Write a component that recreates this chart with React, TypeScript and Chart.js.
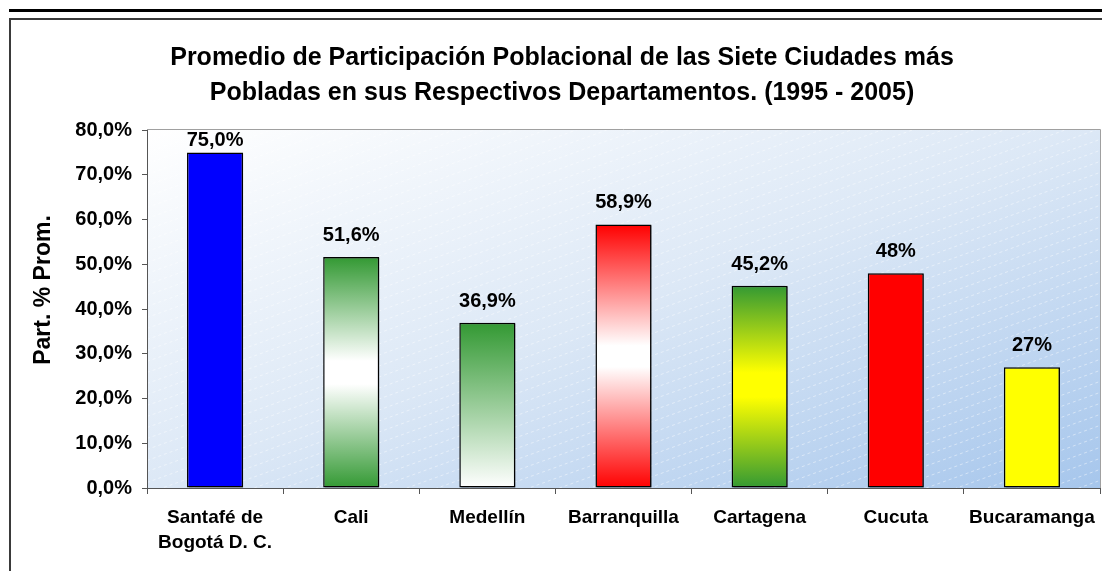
import { useEffect, useRef } from 'react';
import { Chart, registerables } from 'chart.js';

Chart.register(...registerables);

const FONT = "'Liberation Sans', Arial, Helvetica, sans-serif";

const categories: (string | string[])[] = [
  ['Santafé de', 'Bogotá D. C.'],
  'Cali',
  'Medellín',
  'Barranquilla',
  'Cartagena',
  'Cucuta',
  'Bucaramanga',
];
const values = [75.0, 51.6, 36.9, 58.9, 45.2, 48.0, 27.0];
const valueLabels = ['75,0%', '51,6%', '36,9%', '58,9%', '45,2%', '48%', '27%'];
const yMin = 0;
const yMax = 80;
const yStep = 10;
const titleLines = [
  'Promedio de Participación Poblacional de las Siete Ciudades más',
  'Pobladas en sus Respectivos Departamentos. (1995 - 2005)',
];
const yAxisTitle = 'Part. % Prom.';

const GREEN = '#339933';
const WHITE = '#ffffff';
const RED = '#ff0000';
const YELLOW = '#ffff00';
const BLUE = '#0000ff';

const barStops: [number, string][][] = [
  [[0, BLUE], [1, BLUE]],
  [[0, GREEN], [0.45, WHITE], [0.55, WHITE], [1, GREEN]],
  [[0, GREEN], [1, WHITE]],
  [[0, RED], [0.46, WHITE], [0.54, WHITE], [1, RED]],
  [[0, GREEN], [0.43, YELLOW], [0.55, YELLOW], [1, GREEN]],
  [[0, RED], [1, RED]],
  [[0, YELLOW], [1, YELLOW]],
];

const decorPlugin = {
  id: 'decor',
  beforeDraw(chart: any) {
    const { ctx, chartArea } = chart;
    const { left, top, right, bottom } = chartArea;
    ctx.save();
    // outer frame
    ctx.fillStyle = '#000000';
    ctx.fillRect(9, 9, 1102 - 9, 3);
    ctx.fillStyle = '#3a3a3a';
    ctx.fillRect(9, 18, 1102 - 9, 2);
    ctx.fillRect(9, 18, 2, 571 - 18);

    // plot background gradient
    const w = right - left;
    const h = bottom - top;
    const t = (2 * w * h) / (w * w + h * h);
    const g = ctx.createLinearGradient(left, top, left + t * h, top + t * w);
    g.addColorStop(0, '#ffffff');
    g.addColorStop(0.5, '#dce8f6');
    g.addColorStop(1, '#a6c6ec');
    ctx.fillStyle = g;
    ctx.fillRect(left, top, w, h);

    // faint diagonal hatching
    ctx.beginPath();
    ctx.rect(left, top, w, h);
    ctx.clip();
    ctx.strokeStyle = 'rgba(255,255,255,0.45)';
    ctx.lineWidth = 1;
    ctx.setLineDash([3, 3]);
    const slope = 0.36;
    const sp = 11;
    for (let y0 = top; y0 < bottom + slope * w + sp; y0 += sp) {
      ctx.beginPath();
      ctx.moveTo(left, y0 + 0.5);
      ctx.lineTo(right, y0 - slope * w + 0.5);
      ctx.stroke();
    }
    ctx.restore();

    // plot border (top & right)
    ctx.save();
    ctx.strokeStyle = '#a0a0a0';
    ctx.lineWidth = 1;
    ctx.beginPath();
    ctx.moveTo(left, top - 0.5);
    ctx.lineTo(right + 0.5, top - 0.5);
    ctx.lineTo(right + 0.5, bottom);
    ctx.stroke();
    ctx.restore();

    // titles
    ctx.save();
    ctx.fillStyle = '#000000';
    ctx.font = `bold 25px ${FONT}`;
    ctx.textAlign = 'center';
    ctx.textBaseline = 'alphabetic';
    ctx.fillText(titleLines[0], 562, 65);
    ctx.fillText(titleLines[1], 562, 100);
    ctx.translate(44, 290);
    ctx.rotate(-Math.PI / 2);
    ctx.font = `bold 23px ${FONT}`;
    ctx.textBaseline = 'middle';
    ctx.fillText(yAxisTitle, 0, 0);
    ctx.restore();
  },
  beforeDatasetsDraw(chart: any) {
    const { ctx } = chart;
    ctx.save();
    ctx.shadowColor = 'rgba(0,0,0,0.35)';
    ctx.shadowOffsetX = 2;
    ctx.shadowOffsetY = 1;
    ctx.shadowBlur = 0;
  },
  afterDatasetsDraw(chart: any) {
    const { ctx, chartArea } = chart;
    ctx.restore();
    const meta = chart.getDatasetMeta(0);
    ctx.save();
    ctx.fillStyle = '#000000';
    ctx.font = `bold 20px ${FONT}`;
    ctx.textAlign = 'center';
    ctx.textBaseline = 'alphabetic';
    meta.data.forEach((bar: any, i: number) => {
      const y = Math.max(bar.y - 16, chartArea.top + 16);
      ctx.fillText(valueLabels[i], bar.x, y);
    });
    ctx.restore();
  },
};

export default function App() {
  const ref = useRef<HTMLCanvasElement | null>(null);

  useEffect(() => {
    const canvas = ref.current;
    if (!canvas) return;
    const chart = new Chart(canvas, {
      type: 'bar',
      data: {
        labels: categories as any,
        datasets: [
          {
            data: values,
            backgroundColor: (c: any) => {
              const chart = c.chart;
              const i = c.dataIndex;
              if (i === undefined || !chart.chartArea) return BLUE;
              const ys = chart.scales.y;
              const top = ys.getPixelForValue(values[i]);
              const bot = ys.getPixelForValue(0);
              const g = chart.ctx.createLinearGradient(0, top, 0, bot);
              barStops[i].forEach(([p, col]) => g.addColorStop(p, col));
              return g;
            },
            borderColor: '#000000',
            borderWidth: 1.5,
            borderSkipped: false,
            categoryPercentage: 1,
            barPercentage: 0.412,
          },
        ],
      },
      options: {
        responsive: false,
        animation: false,
        devicePixelRatio: 1,
        layout: { padding: { top: 130, right: 2, left: 0, bottom: 0 } },
        plugins: {
          legend: { display: false },
          title: { display: false },
          tooltip: { enabled: false },
        },
        scales: {
          x: {
            afterFit: (s: any) => {
              s.height = 83;
              s.paddingLeft = 0;
              s.paddingRight = 0;
            },
            grid: {
              offset: true,
              drawOnChartArea: false,
              drawTicks: true,
              tickLength: 6,
              color: '#555555',
            },
            border: { display: true, color: '#555555', width: 1 },
            ticks: {
              color: '#000000',
              padding: 11,
              maxRotation: 0,
              autoSkip: false,
              font: { family: FONT, size: 19, weight: 'bold', lineHeight: 25 / 19 },
            },
          },
          y: {
            min: yMin,
            max: yMax,
            afterFit: (s: any) => {
              s.width = 147;
            },
            grid: {
              drawOnChartArea: false,
              drawTicks: true,
              tickLength: 5,
              color: '#555555',
            },
            border: { display: true, color: '#555555', width: 1 },
            ticks: {
              stepSize: yStep,
              color: '#000000',
              padding: 10,
              font: { family: FONT, size: 20, weight: 'bold' },
              callback: (v: any) => Number(v).toFixed(1).replace('.', ',') + '%',
            },
          },
        },
      },
      plugins: [decorPlugin],
    });
    return () => chart.destroy();
  }, []);

  return (
    <div style={{ position: 'absolute', left: 0, top: 0, width: 1102, height: 571, background: '#ffffff' }}>
      <canvas ref={ref} width={1102} height={571} style={{ display: 'block', width: 1102, height: 571 }} />
    </div>
  );
}
